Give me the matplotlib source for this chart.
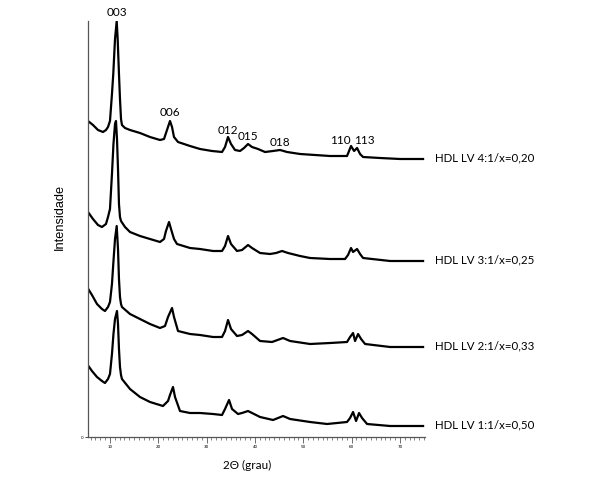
import matplotlib
matplotlib.use("Agg")
import matplotlib.pyplot as plt
from matplotlib.ticker import MultipleLocator

# 2theta (degrees) and relative intensity (a.u.)
x_41 = [5.45, 6.48, 7.52, 8.55, 9.17, 9.59, 10.0, 10.41, 10.68, 11.04, 11.39, 11.59, 11.86, 12.07, 12.28, 12.48,
        13.11, 14.14, 16.21, 18.28, 20.35, 21.18, 21.80, 22.42, 22.84, 23.25, 24.08, 26.56, 28.63, 31.12, 33.19,
        33.81, 34.43, 35.05, 35.88, 36.92, 37.74, 38.57, 39.40, 40.64, 42.09, 43.75, 45.20, 46.65, 49.34, 52.44,
        55.55, 59.06, 59.48, 59.89, 60.52, 61.14, 61.76, 62.38, 65.90, 70.04, 74.80]
y_41 = [48, 44, 39, 37, 39, 42, 48, 75, 95, 130, 148, 130, 95, 70, 50, 44,
        41, 39, 36, 32, 29, 30, 39, 48, 42, 32, 27, 23, 20, 18, 17,
        22, 32, 25, 19, 18, 21, 25, 22, 20, 17, 18, 19, 17, 15, 14,
        13, 13, 18, 23, 18, 21, 15, 12, 11, 10, 10]

x_31 = [5.45, 6.48, 7.52, 8.34, 9.17, 9.59, 10.0, 10.41, 10.72, 11.04, 11.24, 11.45, 11.66, 11.86, 12.07, 12.28,
        13.11, 14.14, 16.21, 18.28, 20.35, 21.18, 21.59, 22.22, 22.63, 23.25, 23.87, 26.56, 28.63, 31.33, 33.19,
        33.81, 34.43, 35.05, 36.29, 37.33, 38.57, 39.40, 41.06, 43.13, 44.37, 45.61, 46.85, 49.34, 51.41, 55.55,
        58.65, 59.27, 59.89, 60.31, 61.14, 61.76, 62.38, 67.97, 74.80]
y_31 = [60, 53, 47, 45, 48, 55, 63, 98, 128, 148, 151, 133, 103, 68, 55, 51,
        45, 40, 36, 33, 30, 33, 41, 50, 43, 33, 28, 24, 23, 21, 21,
        26, 36, 28, 21, 22, 27, 24, 19, 18, 19, 21, 19, 16, 14, 13,
        13, 17, 24, 20, 23, 18, 14, 11, 11]

x_21 = [5.24, 6.27, 7.31, 8.34, 8.96, 9.59, 10.0, 10.41, 10.68, 11.04, 11.39, 11.66, 11.86, 12.07, 12.28, 12.48,
        14.14, 16.21, 18.28, 20.35, 21.39, 22.01, 22.84, 23.25, 24.08, 26.56, 28.63, 31.33, 33.19, 33.81, 34.43,
        35.05, 36.29, 37.33, 38.57, 39.40, 41.06, 43.54, 45.82, 47.27, 51.41, 55.55, 59.06, 59.69, 60.31, 60.72,
        61.35, 61.97, 62.80, 67.97, 74.80]
y_21 = [70, 62, 53, 48, 46, 50, 55, 73, 93, 118, 131, 108, 78, 60, 53, 50,
        43, 38, 33, 29, 31, 40, 49, 40, 26, 23, 22, 20, 20, 26, 37,
        28, 21, 22, 26, 23, 16, 15, 19, 16, 13, 14, 15, 20, 24, 16,
        23, 18, 13, 10, 10]

x_11 = [5.24, 6.27, 7.31, 8.34, 8.96, 9.59, 10.0, 10.41, 10.72, 11.04, 11.45, 11.66, 11.86, 12.07, 12.28, 12.48,
        14.14, 16.21, 18.28, 20.97, 22.01, 22.42, 23.04, 23.46, 24.49, 26.56, 28.63, 31.33, 33.19, 33.81, 34.64,
        35.26, 36.50, 37.33, 38.57, 39.40, 41.06, 43.75, 45.82, 47.27, 51.41, 54.93, 59.06, 59.69, 60.31, 60.93,
        61.55, 62.17, 63.21, 67.97, 74.80]
y_11 = [73, 66, 60, 56, 54, 58, 63, 83, 103, 118, 126, 113, 88, 70, 62, 58,
        48, 40, 35, 31, 36, 42, 50, 40, 26, 24, 24, 23, 22, 28, 37,
        28, 23, 24, 26, 24, 20, 17, 21, 18, 15, 13, 15, 19, 25, 16,
        24, 19, 13, 11, 11]

series_x = [x_41, x_31, x_21, x_11]
series_y = [y_41, y_31, y_21, y_11]
offsets = [268, 165, 80, 0]
labels = ["HDL LV 4:1/x=0,20", "HDL LV 3:1/x=0,25", "HDL LV 2:1/x=0,33", "HDL LV 1:1/x=0,50"]

peak_names = ["003", "006", "012", "015", "018", "110", "113"]
peak_x = [11.45, 22.42, 34.43, 38.57, 45.2, 57.6, 62.6]
peak_y = [426, 326, 308, 301, 296, 297, 297]

xticks = [10, 20, 30, 40, 50, 60, 70]

fig = plt.figure(figsize=(6.08, 4.85), dpi=100)
ax = fig.add_axes([88 / 608, 1 - 438 / 485, 337 / 608, 416 / 485])

for xs, ys, off in zip(series_x, series_y, offsets):
    ax.plot(xs, [v + off for v in ys], color="black", lw=1.6, solid_joinstyle="round")

for xs, ys, off, lab in zip(series_x, series_y, offsets, labels):
    ax.text(77.3, ys[-1] + off + 2, lab, fontsize=8.3, family="Lato", ha="left", va="center",
            clip_on=False)

for n, px, py in zip(peak_names, peak_x, peak_y):
    ax.text(px, py, n, fontsize=8.5, family="Lato", ha="center", va="center", clip_on=False)

ax.set_xlim(5.45, 75.2)
ax.set_ylim(0, 416)
ax.spines["top"].set_visible(False)
ax.spines["right"].set_visible(False)
for s in ("left", "bottom"):
    ax.spines[s].set_color("#555555")
    ax.spines[s].set_linewidth(0.9)

ax.set_xticks(xticks)
ax.set_xticklabels([str(t) for t in xticks], fontsize=3)
ax.xaxis.set_minor_locator(MultipleLocator(1))
ax.tick_params(axis="x", which="major", length=4, width=0.6, color="#555555", pad=1)
ax.tick_params(axis="x", which="minor", length=2.5, width=0.5, color="#555555")
ax.set_yticks([0])
ax.set_yticklabels(["0"], fontsize=3)
ax.tick_params(axis="y", length=2, width=0.5, pad=1)

fig.text(247 / 608, 1 - 465 / 485, "2Θ (grau)", fontsize=8.5, family="Lato", ha="center", va="center")
fig.text(60 / 608, 1 - 217 / 485, "Intensidade", fontsize=9.2, family="Liberation Sans",
         rotation=90, ha="center", va="center")

fig.savefig("out.png", dpi=100)
